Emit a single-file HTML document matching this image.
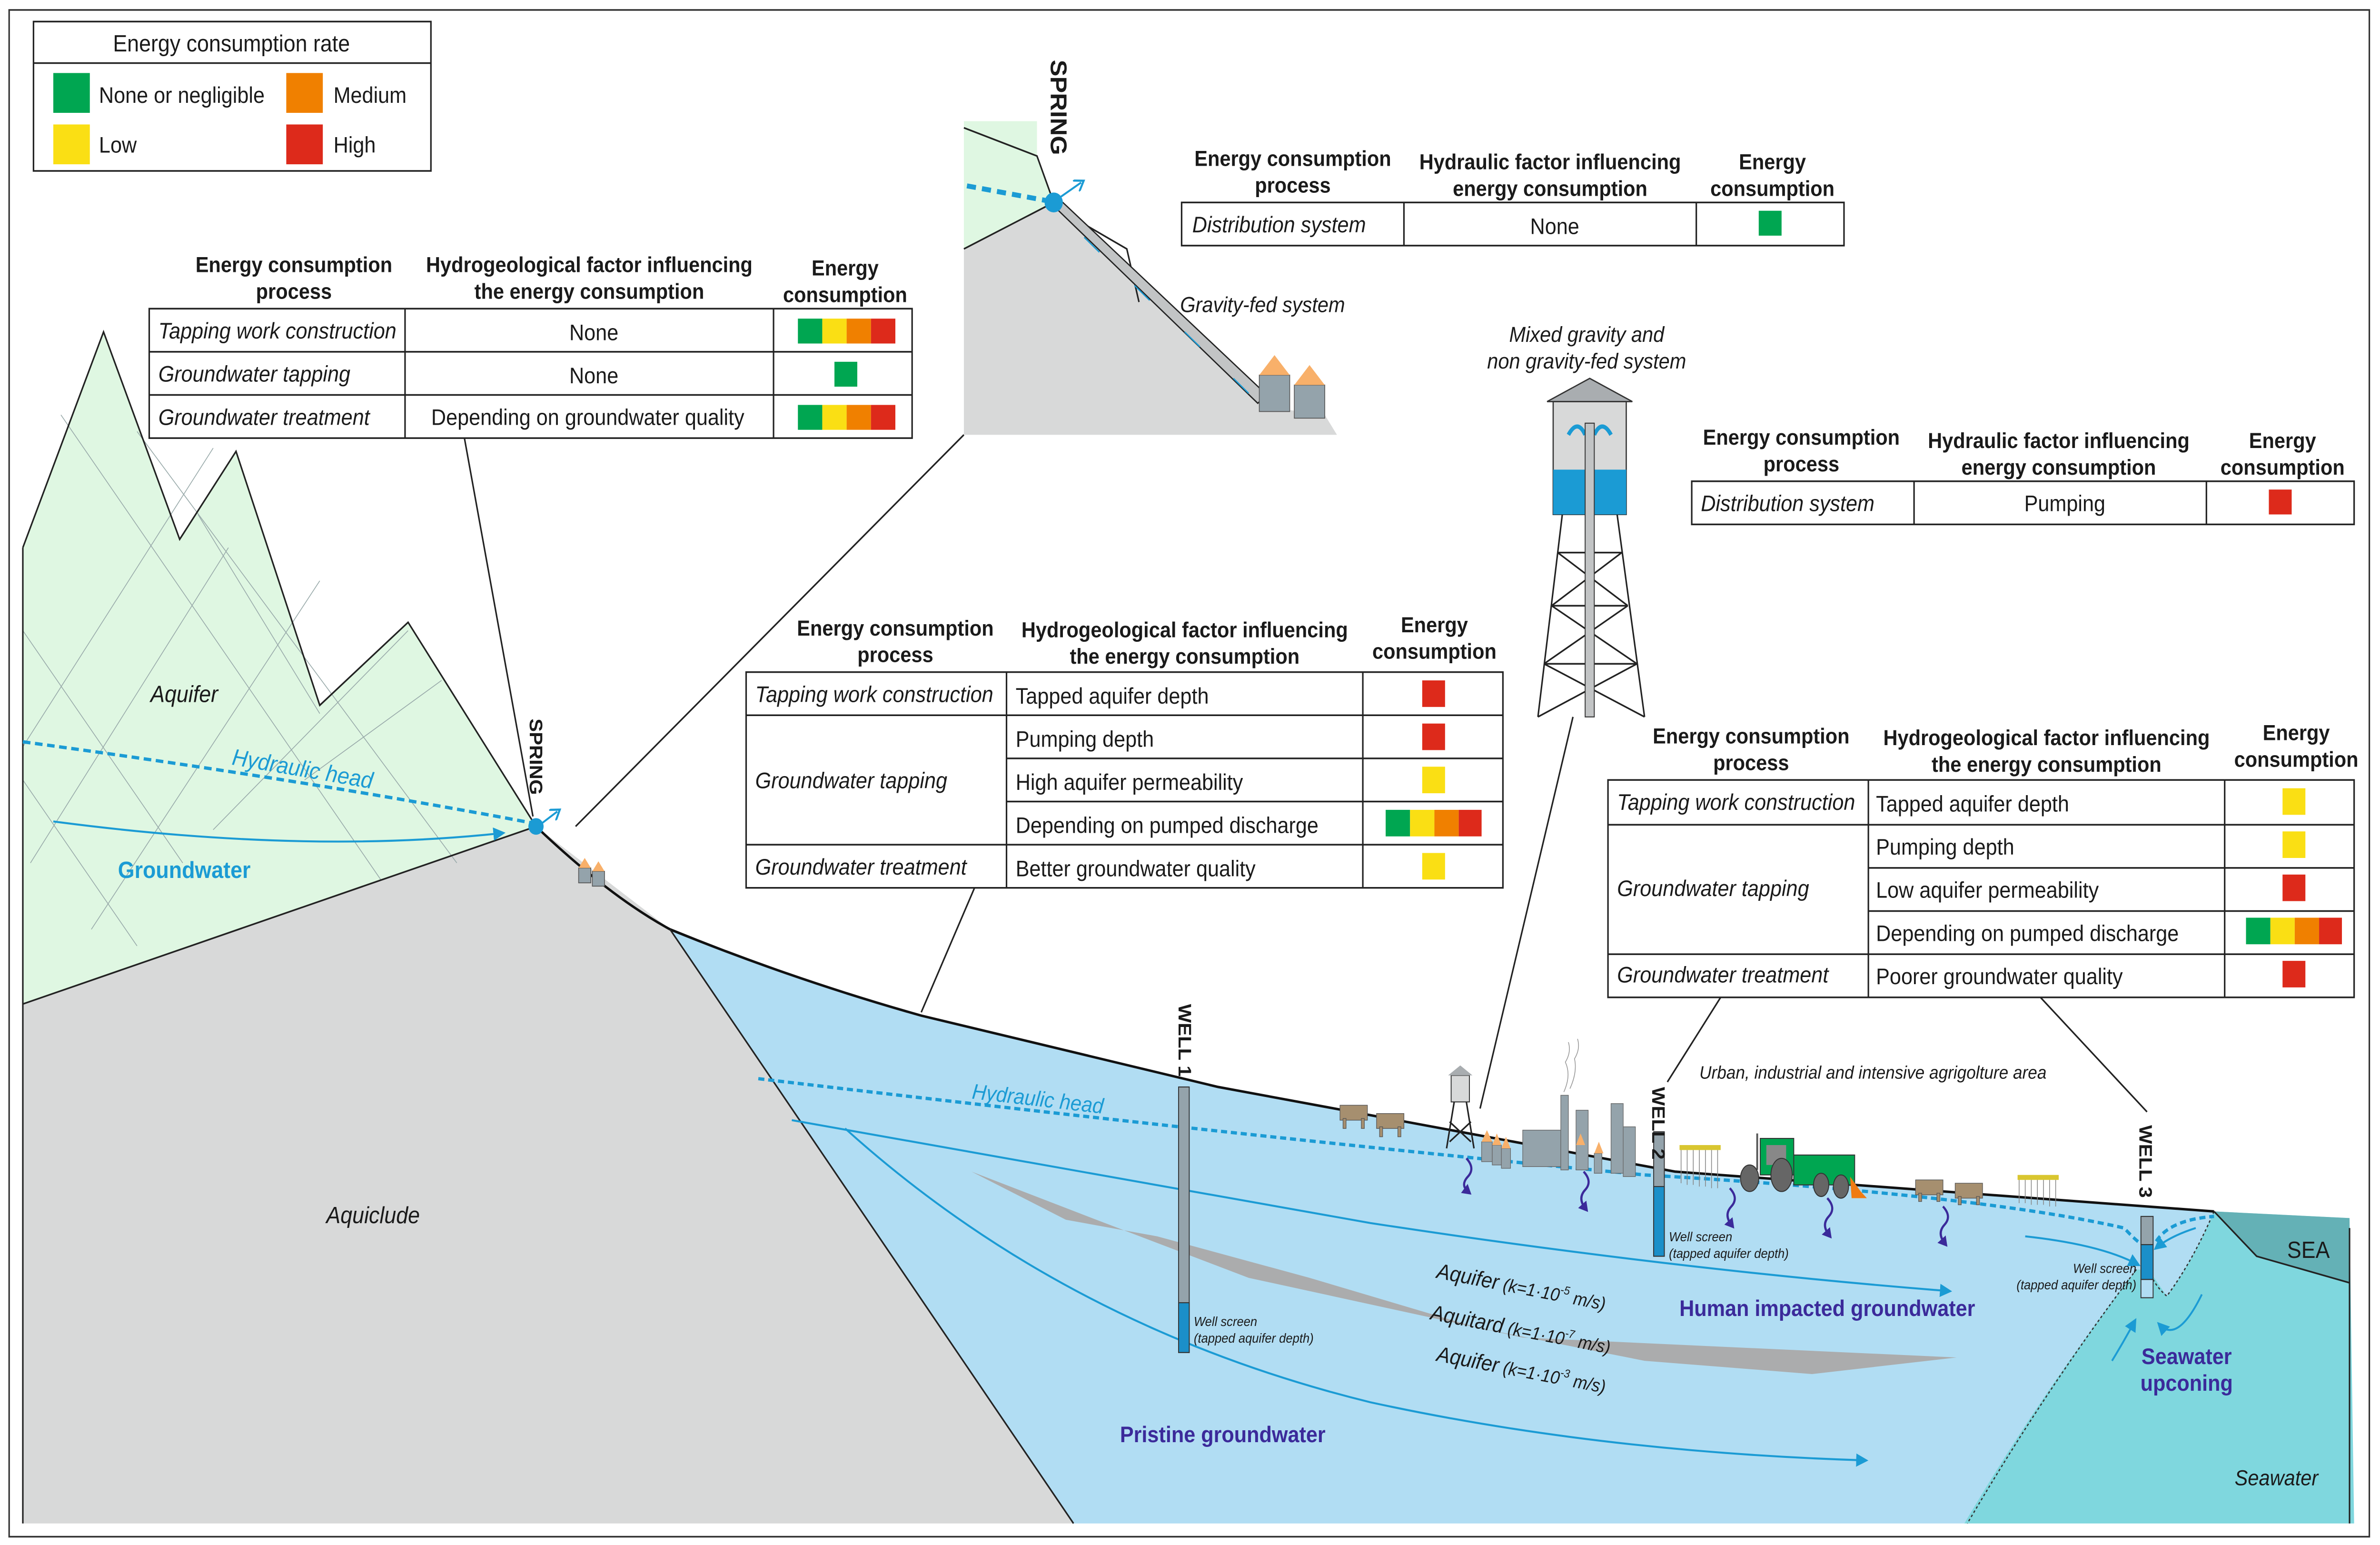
<!DOCTYPE html>
<html><head><meta charset="utf-8"><style>
html,body{margin:0;padding:0;background:#fff;width:100vw;height:100vh;overflow:hidden}
svg{display:block;position:absolute;left:0;top:0;width:100vw;height:100vh}
text{font-family:"Liberation Sans",sans-serif;fill:#1a1a1a}
.h{font-weight:bold;font-size:13px;text-anchor:middle}
.c{font-size:13.5px}
.i{font-style:italic}
.m{text-anchor:middle}
.tb{fill:#fff;stroke:#222;stroke-width:1}
.ln{stroke:#222;stroke-width:1;fill:none}
</style></head><body>
<svg viewBox="0 0 1563 931" preserveAspectRatio="none" xmlns="http://www.w3.org/2000/svg">
<defs>
<marker id="ar" markerWidth="8" markerHeight="8" refX="6" refY="4" orient="auto" markerUnits="userSpaceOnUse"><path d="M0,0 L8,4 L0,8 Z" fill="#1b9bd4"/></marker>
<marker id="ap" markerWidth="6" markerHeight="7" refX="3" refY="3.5" orient="auto" markerUnits="userSpaceOnUse"><path d="M0,0 L6,3.5 L0,7 Z" fill="#3b2a9a"/></marker>
<marker id="ao" markerWidth="8" markerHeight="8" refX="4" refY="4" orient="auto" markerUnits="userSpaceOnUse"><path d="M0,0 L6,4 L0,8" stroke="#1b9bd4" stroke-width="1.3" fill="none"/></marker>
</defs>
<rect x="0" y="0" width="1563" height="931" fill="#fff"/>
<rect x="6" y="6" width="1550" height="920" fill="none" stroke="#333" stroke-width="1"/>

<rect x="22" y="13" width="261" height="90" class="tb"/>
<line x1="22" y1="38" x2="283" y2="38" class="ln"/>
<text x="152" y="31" class="m" style="font-size:14px">Energy consumption rate</text>
<rect x="35" y="44" width="24" height="24" fill="#00a651"/>
<rect x="35" y="75" width="24" height="24" fill="#fadf14"/>
<rect x="188" y="44" width="24" height="24" fill="#f08000"/>
<rect x="188" y="75" width="24" height="24" fill="#dd2a1b"/>
<text x="65" y="62" class="c">None or negligible</text>
<text x="65" y="92" class="c">Low</text>
<text x="219" y="62" class="c">Medium</text>
<text x="219" y="92" class="c">High</text>

<polygon points="15,605 352,498 440,560 705,918 15,918" fill="#d8d9d9"/>
<polygon points="15,330 68,200 118,325 155,272 210,425 268,375 352,498 15,605" fill="#dff7e2"/>
<g stroke="#9aa" stroke-width="0.5" fill="none">
<path d="M15,380 L120,520 M15,470 L90,570 M40,250 L250,530 M90,260 L300,520 M130,310 L210,430 M20,520 L150,330 M60,560 L210,350 M15,450 L140,270 M140,500 L268,380 M200,470 L290,410"/>
</g>
<path d="M440,560 Q520,590 605,612 L800,655 L1100,706 L1454,730 Q1440,760 1423,781 L1411,765 L1403,765 Q1340,840 1290,918 L705,918 Z" fill="#b1ddf3"/>
<path d="M1454,730 L1543,734 L1546,918 L1290,918 Q1340,840 1403,765 L1411,765 L1423,781 Q1440,760 1454,730 Z" fill="#7fd7de"/>
<polygon points="1454,730 1543,734 1543,773 1482,757" fill="#64b1b6"/>
<path d="M1454,730 L1482,757 L1543,773" class="ln"/>
<path d="M1454,730 Q1440,760 1423,781 Q1415,775 1411,765" stroke="#333" stroke-width="0.8" stroke-dasharray="1.5,1.5" fill="none"/>
<path d="M1403,765 Q1345,835 1292,918" stroke="#333" stroke-width="0.8" stroke-dasharray="1.5,1.5" fill="none"/>
<polygon points="638,706 720,735 820,770 1000,806 1285,818 1190,828 1080,820 970,800 860,770 760,745 700,735" fill="#abacad"/>
<path d="M15,330 L68,200 L118,325 L155,272 L210,425 L268,375 L352,498" class="ln"/>
<line x1="15" y1="605" x2="352" y2="498" class="ln"/>
<line x1="15" y1="330" x2="15" y2="918" class="ln"/>
<path d="M352,498 Q400,540 440,560 Q520,590 605,612 L800,655 L1100,706 L1454,730" stroke="#111" stroke-width="1.5" fill="none"/>
<line x1="440" y1="560" x2="705" y2="918" class="ln"/>
<line x1="1543" y1="740" x2="1543" y2="918" class="ln"/>

<path d="M15,447 Q200,470 350,496" stroke="#1b9bd4" stroke-width="2" stroke-dasharray="5,3" fill="none"/>
<path d="M35,495 Q200,515 330,502" stroke="#1b9bd4" stroke-width="1.2" fill="none" marker-end="url(#ar)"/>
<text x="121" y="423" class="m i" style="font-size:14px">Aquifer</text>
<text x="198" y="468" class="m i" style="font-size:14px;fill:#1b9bd4" transform="rotate(9 198 468)">Hydraulic head</text>
<text x="121" y="529" class="m" style="font-size:14px;font-weight:bold;fill:#1b9bd4">Groundwater</text>
<text x="245" y="737" class="m i" style="font-size:14px">Aquiclude</text>
<circle cx="352" cy="498" r="5" fill="#1b9bd4"/>
<line x1="356" y1="496" x2="366" y2="489" stroke="#1b9bd4" stroke-width="1.2" marker-end="url(#ao)"/>
<text x="0" y="0" style="font-size:12px;font-weight:bold" transform="translate(348,433) rotate(90)">SPRING</text>
<rect x="380" y="523" width="8" height="9" fill="#94a3ab" stroke="#555" stroke-width="0.5"/><polygon points="380,523 384,517 388,523" fill="#f8b06a"/>
<rect x="389" y="525" width="8" height="9" fill="#94a3ab" stroke="#555" stroke-width="0.5"/><polygon points="389,525 393,519 397,525" fill="#f8b06a"/>

<line x1="305" y1="264" x2="350" y2="492" class="ln"/>
<line x1="633" y1="262" x2="378" y2="498" class="ln"/>
<line x1="640" y1="535" x2="605" y2="610" class="ln"/>
<line x1="1033" y1="432" x2="972" y2="668" class="ln"/>
<line x1="1130" y1="601" x2="1095" y2="652" class="ln"/>
<line x1="1340" y1="601" x2="1410" y2="670" class="ln"/>

<polygon points="633,115 633,73 681,73 681,94 692,122 633,150" fill="#dff7e2"/>
<polygon points="633,150 692,122 830,245 870,250 878,262 633,262" fill="#d8d9d9"/>
<path d="M633,77 L681,94 L692,122 L633,150" class="ln"/>
<path d="M695,126 L740,150 L748,182" class="ln"/>
<line x1="635" y1="112" x2="688" y2="121" stroke="#1b9bd4" stroke-width="3" stroke-dasharray="6,4"/>
<polygon points="693,125 698,122 832,238 826,243" fill="#c2c4c5" stroke="#222" stroke-width="0.8"/>
<g stroke="#1b9bd4" stroke-width="0.8"><line x1="712" y1="143" x2="722" y2="152"/><line x1="745" y1="172" x2="755" y2="181"/><line x1="778" y1="200" x2="788" y2="209"/><line x1="810" y1="228" x2="820" y2="237"/></g>
<ellipse cx="692" cy="122" rx="6" ry="6" fill="#1b9bd4"/>
<line x1="696" y1="119" x2="710" y2="110" stroke="#1b9bd4" stroke-width="1.2" marker-end="url(#ao)"/>
<rect x="827" y="226" width="20" height="22" fill="#94a3ab" stroke="#555" stroke-width="0.5"/><polygon points="827,226 837,214 847,226" fill="#f8b06a"/>
<rect x="850" y="232" width="20" height="20" fill="#94a3ab" stroke="#555" stroke-width="0.5"/><polygon points="850,232 860,220 870,232" fill="#f8b06a"/>
<text x="0" y="0" style="font-size:15px;font-weight:bold" transform="translate(690,36) rotate(90)">SPRING</text>
<text x="775" y="188" class="i" style="font-size:13px">Gravity-fed system</text>

<text x="193" y="164" class="h">Energy consumption</text><text x="193" y="180" class="h">process</text>
<text x="387" y="164" class="h">Hydrogeological factor influencing</text><text x="387" y="180" class="h">the energy consumption</text>
<text x="555" y="166" class="h">Energy</text><text x="555" y="182" class="h">consumption</text>
<rect x="98" y="186" width="501" height="78" class="tb"/>
<path d="M98,212 H599 M98,238 H599 M266,186 V264 M508,186 V264" class="ln"/>
<text x="104" y="204" class="c i">Tapping work construction</text>
<text x="104" y="230" class="c i">Groundwater tapping</text>
<text x="104" y="256" class="c i">Groundwater treatment</text>
<text x="390" y="205" class="c m">None</text>
<text x="390" y="231" class="c m">None</text>
<text x="386" y="256" class="c m">Depending on groundwater quality</text>
<g><rect x="524" y="192" width="16" height="15" fill="#00a651"/><rect x="540" y="192" width="16" height="15" fill="#fadf14"/><rect x="556" y="192" width="16" height="15" fill="#f08000"/><rect x="572" y="192" width="16" height="15" fill="#dd2a1b"/></g>
<rect x="548" y="218" width="15" height="15" fill="#00a651"/>
<g><rect x="524" y="244" width="16" height="15" fill="#00a651"/><rect x="540" y="244" width="16" height="15" fill="#fadf14"/><rect x="556" y="244" width="16" height="15" fill="#f08000"/><rect x="572" y="244" width="16" height="15" fill="#dd2a1b"/></g>

<text x="849" y="100" class="h">Energy consumption</text><text x="849" y="116" class="h">process</text>
<text x="1018" y="102" class="h">Hydraulic factor influencing</text><text x="1018" y="118" class="h">energy consumption</text>
<text x="1164" y="102" class="h">Energy</text><text x="1164" y="118" class="h">consumption</text>
<rect x="776" y="122" width="435" height="26" class="tb"/>
<path d="M922,122 V148 M1114,122 V148" class="ln"/>
<text x="783" y="140" class="c i">Distribution system</text>
<text x="1021" y="141" class="c m">None</text>
<rect x="1155" y="127" width="15" height="15" fill="#00a651"/>

<text x="1042" y="206" class="m i" style="font-size:13px">Mixed gravity and</text>
<text x="1042" y="222" class="m i" style="font-size:13px">non gravity-fed system</text>
<polygon points="1016,242 1044,228 1072,242" fill="#a9adb0" stroke="#333" stroke-width="0.8"/>
<rect x="1020" y="242" width="48" height="68" fill="#d8d9d9" stroke="#333" stroke-width="0.8"/>
<rect x="1020" y="283" width="48" height="27" fill="#1b9bd4"/>
<path d="M1030,262 Q1036,252 1041,262 M1047,262 Q1052,252 1058,262" stroke="#1b9bd4" stroke-width="2.5" fill="none"/>
<g class="ln" stroke-width="1"><path d="M1026,310 L1010,432 M1062,310 L1080,432 M1023,333 H1065 M1019,365 H1069 M1014,400 H1075 M1023,333 L1069,365 M1065,333 L1019,365 M1019,365 L1075,400 M1069,365 L1014,400 M1014,400 L1080,432 M1075,400 L1010,432"/></g>
<rect x="1041" y="255" width="6" height="177" fill="#c2c4c5" stroke="#333" stroke-width="0.6"/>

<text x="1183" y="268" class="h">Energy consumption</text><text x="1183" y="284" class="h">process</text>
<text x="1352" y="270" class="h">Hydraulic factor influencing</text><text x="1352" y="286" class="h">energy consumption</text>
<text x="1499" y="270" class="h">Energy</text><text x="1499" y="286" class="h">consumption</text>
<rect x="1111" y="290" width="435" height="26" class="tb"/>
<path d="M1257,290 V316 M1449,290 V316" class="ln"/>
<text x="1117" y="308" class="c i">Distribution system</text>
<text x="1356" y="308" class="c m">Pumping</text>
<rect x="1490" y="295" width="15" height="15" fill="#dd2a1b"/>

<text x="588" y="383" class="h">Energy consumption</text><text x="588" y="399" class="h">process</text>
<text x="778" y="384" class="h">Hydrogeological factor influencing</text><text x="778" y="400" class="h">the energy consumption</text>
<text x="942" y="381" class="h">Energy</text><text x="942" y="397" class="h">consumption</text>
<rect x="490" y="405" width="497" height="130" class="tb"/>
<path d="M490,431 H987 M661,457 H987 M661,483 H987 M490,509 H987 M661,405 V535 M895,405 V535" class="ln"/>
<text x="496" y="423" class="c i">Tapping work construction</text>
<text x="496" y="475" class="c i">Groundwater tapping</text>
<text x="496" y="527" class="c i">Groundwater treatment</text>
<text x="667" y="424" class="c">Tapped aquifer depth</text>
<text x="667" y="450" class="c">Pumping depth</text>
<text x="667" y="476" class="c">High aquifer permeability</text>
<text x="667" y="502" class="c">Depending on pumped discharge</text>
<text x="667" y="528" class="c">Better groundwater quality</text>
<rect x="934" y="410" width="15" height="16" fill="#dd2a1b"/>
<rect x="934" y="436" width="15" height="16" fill="#dd2a1b"/>
<rect x="934" y="462" width="15" height="16" fill="#fadf14"/>
<g><rect x="910" y="488" width="16" height="16" fill="#00a651"/><rect x="926" y="488" width="16" height="16" fill="#fadf14"/><rect x="942" y="488" width="16" height="16" fill="#f08000"/><rect x="958" y="488" width="15" height="16" fill="#dd2a1b"/></g>
<rect x="934" y="514" width="15" height="16" fill="#fadf14"/>

<text x="1150" y="448" class="h">Energy consumption</text><text x="1150" y="464" class="h">process</text>
<text x="1344" y="449" class="h">Hydrogeological factor influencing</text><text x="1344" y="465" class="h">the energy consumption</text>
<text x="1508" y="446" class="h">Energy</text><text x="1508" y="462" class="h">consumption</text>
<rect x="1056" y="470" width="490" height="131" class="tb"/>
<path d="M1056,497 H1546 M1227,523 H1546 M1227,549 H1546 M1056,575 H1546 M1227,470 V601 M1461,470 V601" class="ln"/>
<text x="1062" y="488" class="c i">Tapping work construction</text>
<text x="1062" y="540" class="c i">Groundwater tapping</text>
<text x="1062" y="592" class="c i">Groundwater treatment</text>
<text x="1232" y="489" class="c">Tapped aquifer depth</text>
<text x="1232" y="515" class="c">Pumping depth</text>
<text x="1232" y="541" class="c">Low aquifer permeability</text>
<text x="1232" y="567" class="c">Depending on pumped discharge</text>
<text x="1232" y="593" class="c">Poorer groundwater quality</text>
<rect x="1499" y="475" width="15" height="16" fill="#fadf14"/>
<rect x="1499" y="501" width="15" height="16" fill="#fadf14"/>
<rect x="1499" y="527" width="15" height="16" fill="#dd2a1b"/>
<g><rect x="1475" y="553" width="16" height="16" fill="#00a651"/><rect x="1491" y="553" width="16" height="16" fill="#fadf14"/><rect x="1507" y="553" width="16" height="16" fill="#f08000"/><rect x="1523" y="553" width="15" height="16" fill="#dd2a1b"/></g>
<rect x="1499" y="579" width="15" height="16" fill="#dd2a1b"/>

<path d="M498,650 Q800,683 1080,708 Q1300,720 1395,740 Q1403,748 1407,750" stroke="#1b9bd4" stroke-width="2" stroke-dasharray="4,2.5" fill="none"/>
<path d="M1416,748 Q1425,735 1454,733" stroke="#1b9bd4" stroke-width="2" stroke-dasharray="4,2.5" fill="none"/>
<text x="638" y="662" class="i" style="font-size:13px;fill:#1b9bd4" transform="rotate(6 638 662)">Hydraulic head</text>
<path d="M520,675 Q700,705 900,737 Q1100,765 1280,778" stroke="#1b9bd4" stroke-width="1.2" fill="none" marker-end="url(#ar)"/>
<path d="M555,680 Q700,800 900,845 Q1050,875 1225,880" stroke="#1b9bd4" stroke-width="1.2" fill="none" marker-end="url(#ar)"/>
<path d="M1330,745 Q1380,750 1404,762" stroke="#1b9bd4" stroke-width="1.2" fill="none" marker-end="url(#ar)"/>
<path d="M1442,740 Q1425,745 1416,752" stroke="#1b9bd4" stroke-width="1.2" fill="none" marker-end="url(#ar)"/>
<path d="M1387,820 Q1395,808 1402,796" stroke="#1b9bd4" stroke-width="1.2" fill="none" marker-end="url(#ar)"/>
<path d="M1446,780 Q1430,810 1418,798" stroke="#1b9bd4" stroke-width="1.2" fill="none" marker-end="url(#ar)"/>

<text x="0" y="0" style="font-size:13px" transform="translate(943,770) rotate(10)"><tspan class="i">Aquifer</tspan><tspan font-size="11" font-style="italic"> (k=1·10</tspan><tspan font-size="7" dy="-5" font-style="italic">-5</tspan><tspan font-size="11" dy="5" font-style="italic"> m/s)</tspan></text>
<text x="0" y="0" style="font-size:13px" transform="translate(939,795) rotate(10)"><tspan class="i">Aquitard</tspan><tspan font-size="11" font-style="italic"> (k=1·10</tspan><tspan font-size="7" dy="-5" font-style="italic">-7</tspan><tspan font-size="11" dy="5" font-style="italic"> m/s)</tspan></text>
<text x="0" y="0" style="font-size:13px" transform="translate(943,820) rotate(10)"><tspan class="i">Aquifer</tspan><tspan font-size="11" font-style="italic"> (k=1·10</tspan><tspan font-size="7" dy="-5" font-style="italic">-3</tspan><tspan font-size="11" dy="5" font-style="italic"> m/s)</tspan></text>
<text x="1200" y="793" class="m" style="font-size:13.5px;font-weight:bold;fill:#3b2a9a">Human impacted groundwater</text>
<text x="803" y="869" class="m" style="font-size:13.5px;font-weight:bold;fill:#3b2a9a">Pristine groundwater</text>
<text x="1436" y="822" class="m" style="font-size:13.5px;font-weight:bold;fill:#3b2a9a">Seawater</text>
<text x="1436" y="838" class="m" style="font-size:13.5px;font-weight:bold;fill:#3b2a9a">upconing</text>
<text x="1495" y="895" class="m i" style="font-size:13px">Seawater</text>
<text x="1516" y="758" class="m" style="font-size:14px">SEA</text>

<rect x="774" y="655" width="7" height="160" fill="#94a3ab" stroke="#333" stroke-width="0.6"/>
<rect x="774" y="785" width="7" height="30" fill="#1b8fc9" stroke="#333" stroke-width="0.6"/>
<text x="0" y="0" style="font-size:12px;font-weight:bold" transform="translate(774,605) rotate(90)">WELL 1</text>
<text x="784" y="799" class="i" style="font-size:8px">Well screen</text>
<text x="784" y="809" class="i" style="font-size:8px">(tapped aquifer depth)</text>
<rect x="1086" y="682" width="7" height="75" fill="#94a3ab" stroke="#333" stroke-width="0.6"/>
<rect x="1086" y="715" width="7" height="42" fill="#1b8fc9" stroke="#333" stroke-width="0.6"/>
<text x="0" y="0" style="font-size:12px;font-weight:bold" transform="translate(1085,655) rotate(90)">WELL 2</text>
<text x="1096" y="748" class="i" style="font-size:8px">Well screen</text>
<text x="1096" y="758" class="i" style="font-size:8px">(tapped aquifer depth)</text>
<rect x="1406" y="733" width="8" height="17" fill="#94a3ab" stroke="#333" stroke-width="0.6"/>
<rect x="1406" y="750" width="8" height="21" fill="#1b8fc9" stroke="#333" stroke-width="0.6"/>
<rect x="1406" y="771" width="8" height="11" fill="#b1ddf3" stroke="#333" stroke-width="0.6"/>
<text x="0" y="0" style="font-size:12px;font-weight:bold" transform="translate(1405,678) rotate(90)">WELL 3</text>
<text x="1403" y="767" class="i" style="font-size:8px;text-anchor:end">Well screen</text>
<text x="1403" y="777" class="i" style="font-size:8px;text-anchor:end">(tapped aquifer depth)</text>

<text x="1230" y="650" class="m i" style="font-size:11px">Urban, industrial and intensive agrigolture area</text>
<g fill="#a68f6f" stroke="#555" stroke-width="0.4">
<rect x="880" y="666" width="18" height="9"/><rect x="882" y="674" width="2" height="6"/><rect x="894" y="674" width="2" height="6"/>
<rect x="904" y="671" width="18" height="9"/><rect x="906" y="679" width="2" height="6"/><rect x="918" y="679" width="2" height="6"/>
<rect x="1258" y="711" width="18" height="9"/><rect x="1260" y="719" width="2" height="5"/><rect x="1272" y="719" width="2" height="5"/>
<rect x="1284" y="713" width="18" height="9"/><rect x="1286" y="721" width="2" height="5"/><rect x="1298" y="721" width="2" height="5"/>
</g>
<rect x="953" y="648" width="12" height="16" fill="#d8d9d9" stroke="#333" stroke-width="0.6"/>
<polygon points="951,648 959,642 967,648" fill="#a9adb0"/>
<path d="M955,664 L950,692 M963,664 L968,692 M952,676 L966,688 M966,676 L952,688" class="ln" stroke-width="0.6"/>
<g fill="#94a3ab" stroke="#666" stroke-width="0.4">
<rect x="973" y="688" width="7" height="12"/><rect x="980" y="690" width="6" height="12"/><rect x="986" y="692" width="6" height="12"/>
<rect x="1000" y="681" width="25" height="22"/>
<rect x="1025" y="660" width="5" height="45"/>
<rect x="1035" y="669" width="8" height="36"/>
<rect x="1047" y="695" width="5" height="12"/>
<rect x="1058" y="665" width="8" height="42"/>
<rect x="1066" y="679" width="8" height="30"/>
</g>
<g fill="#f8b06a"><polygon points="973,688 976.5,681 980,688"/><polygon points="980,690 983,683 986,690"/><polygon points="986,692 989,685 992,692"/><polygon points="1035,690 1038,683 1041,690"/><polygon points="1047,695 1050,688 1053,695"/></g>
<path d="M1027,658 Q1032,648 1028,640 Q1032,634 1030,628 M1031,656 Q1036,646 1034,638 Q1038,632 1036,626" stroke="#999" stroke-width="0.5" fill="none"/>
<g stroke="#888" stroke-width="0.5"><path d="M1104,692 V713 M1108,692 V714 M1112,692 V714 M1116,692 V715 M1120,692 V715 M1124,692 V716 M1128,692 V716 M1326,710 V725 M1330,710 V725 M1334,710 V726 M1338,710 V726 M1342,710 V726 M1346,710 V727 M1350,710 V727"/></g>
<rect x="1103" y="690" width="27" height="3" fill="#d9c630"/>
<rect x="1325" y="708" width="27" height="3" fill="#d9c630"/>
<rect x="1156" y="686" width="22" height="22" fill="#00a651" stroke="#333" stroke-width="0.6"/>
<rect x="1160" y="690" width="13" height="12" fill="#888"/>
<rect x="1178" y="696" width="40" height="18" fill="#00a651" stroke="#333" stroke-width="0.6"/>
<line x1="1154" y1="683" x2="1154" y2="705" stroke="#555" stroke-width="1.2"/>
<ellipse cx="1149" cy="710" rx="6" ry="8" fill="#666" stroke="#333" stroke-width="0.6"/>
<ellipse cx="1170" cy="708" rx="7" ry="10" fill="#666" stroke="#333" stroke-width="0.6"/>
<ellipse cx="1196" cy="714" rx="5" ry="7" fill="#666" stroke="#333" stroke-width="0.6"/>
<ellipse cx="1209" cy="715" rx="5" ry="7" fill="#666" stroke="#333" stroke-width="0.6"/>
<polygon points="1215,709 1222,718 1226,722 1216,722" fill="#f07b12"/>
<g stroke="#3b2a9a" stroke-width="1.4" fill="none" marker-end="url(#ap)">
<path d="M963,698 Q969,704 964,709 Q959,714 964,718"/>
<path d="M1040,706 Q1046,712 1041,717 Q1036,722 1041,728"/>
<path d="M1136,716 Q1142,722 1137,727 Q1132,732 1137,738"/>
<path d="M1200,722 Q1206,728 1201,733 Q1196,738 1201,744"/>
<path d="M1276,727 Q1282,733 1277,738 Q1272,743 1277,749"/>
</g>
</svg>
</body></html>
